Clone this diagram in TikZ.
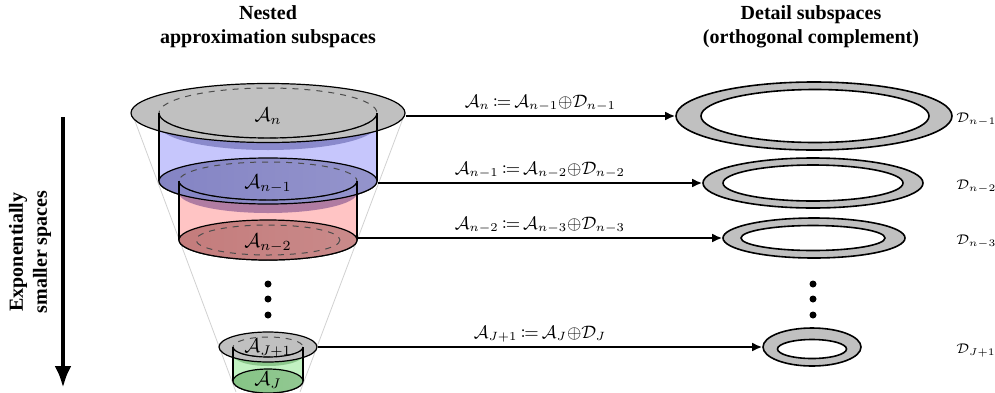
\documentclass[tikz,border=0pt]{standalone}
\usepackage{amsmath}
\usepackage{mathtools}
\usepackage{fontspec}
\setmainfont{Liberation Serif}
\usepackage{tikz}
\usetikzlibrary{arrows.meta}
\usetikzlibrary{shapes.geometric}

\definecolor{diskgray}{HTML}{C0C0C0}
\definecolor{sideblue}{HTML}{C6C6FC}
\definecolor{bandblue}{HTML}{8A8ACC}
\definecolor{sidered}{HTML}{FFC4C4}
\definecolor{bandred}{HTML}{B07CA2}
\definecolor{sidegreen}{HTML}{C2F2C2}
\definecolor{bandgreen}{HTML}{8CC88C}

\begin{document}
\begin{tikzpicture}[x=0.5pt,y=-0.5pt,
  disk/.style={ellipse, draw, line width=0.6pt, inner sep=0pt, fill=diskgray},
  ring/.style={ellipse, draw, line width=0.8pt, inner sep=0pt, fill=diskgray},
  hole/.style={ellipse, draw, line width=0.8pt, inner sep=0pt, fill=white},
  side/.style={draw, line width=0.6pt},
  rim/.style={dashed, line width=0.5pt, black!70},
  funnel/.style={black!18, line width=0.4pt},
  conn/.style={-{Latex[length=5pt,width=4.5pt]}, line width=1pt},
  eqn/.style={above, inner sep=2pt, font=\small},
  dlabel/.style={anchor=west, inner sep=0pt, font=\fontsize{7.5}{9}\selectfont},
  title/.style={align=center, font=\bfseries},
  dot/.style={circle, fill, inner sep=0pt, minimum size=3.5pt}]
\useasboundingbox (0,0) rectangle (995,392);

% titles
\node[title] (tleft) at (268,27) {Nested\\approximation subspaces};
\node[title] (tright) at (811,27) {Detail subspaces\\(orthogonal complement)};

% size arrow
\coordinate (vtop) at (63,117);
\coordinate (vbot) at (63,388);
\draw[-{Latex[length=11pt,width=8.5pt]}, line width=2.2pt] (vtop) -- (vbot);
\node[title, rotate=90] (tsize) at (30,252) {Exponentially\\smaller spaces};

% funnel
\draw[funnel] (132,113) -- (236,392);
\draw[funnel] (405,113) -- (300,392);

% A_n
\filldraw[side, fill=sideblue] (159,113) -- (159,181)
  arc[start angle=180, end angle=0, x radius=109, y radius=23] -- (377,113) -- cycle;
\fill[bandblue] (268,125) ellipse[x radius=109, y radius=25];
\node[disk, minimum width=137pt, minimum height=29.5pt] (An) at (268,113) {};
\draw[rim] (268,113) ellipse[x radius=109, y radius=25];
\draw[side] (159,113) -- (159,181) (377,113) -- (377,181);
\draw[side] (159,113) arc[start angle=180, end angle=0, x radius=109, y radius=25];
\node (lAn) at (268,116) {$\mathcal{A}_n$};

% A_{n-1}
\filldraw[side, fill=sidered] (179,181) -- (179,240)
  arc[start angle=180, end angle=0, x radius=89, y radius=20] -- (357,181) -- cycle;
\fill[bandred] (268,193) ellipse[x radius=89, y radius=20];
\node[disk, minimum width=109pt, minimum height=23pt,
  left color={rgb,255:red,132;green,132;blue,196}, middle color={rgb,255:red,171;green,171;blue,211},
  right color={rgb,255:red,148;green,148;blue,204}] (An1) at (268,181) {};
\draw[rim] (268,181) ellipse[x radius=89, y radius=19];
\draw[side] (179,181) -- (179,240) (357,181) -- (357,240);
\draw[side] (179,181) arc[start angle=180, end angle=0, x radius=89, y radius=19];
\node (lAn1) at (268,184) {$\mathcal{A}_{n-1}$};

% A_{n-2}
\node[disk, minimum width=89pt, minimum height=20pt,
  left color={rgb,255:red,196;green,124;blue,124}, middle color={rgb,255:red,214;green,171;blue,171},
  right color={rgb,255:red,201;green,138;blue,138}] (An2) at (268,240) {};
\draw[rim] (268,240) ellipse[x radius=72, y radius=15];
\node (lAn2) at (268,243) {$\mathcal{A}_{n-2}$};

% dots
\foreach \y in {284,299,315} {
  \node[dot] (ldot\y) at (268,\y) {};
  \node[dot] (rdot\y) at (813,\y) {};
}

% A_{J+1} and A_J
\filldraw[side, fill=sidegreen] (233,347) -- (233,381)
  arc[start angle=180, end angle=0, x radius=35, y radius=12] -- (303,347) -- cycle;
\fill[bandgreen] (268,355) ellipse[x radius=35, y radius=11];
\node[disk, minimum width=49pt, minimum height=15pt] (AJ1) at (268,347) {};
\draw[rim] (268,347) ellipse[x radius=35, y radius=10];
\draw[side] (233,347) -- (233,381) (303,347) -- (303,381);
\draw[side] (233,347) arc[start angle=180, end angle=0, x radius=35, y radius=10];
\node[disk, minimum width=35pt, minimum height=12pt,
  left color={rgb,255:red,134;green,196;blue,134}, middle color={rgb,255:red,171;green,212;blue,171},
  right color={rgb,255:red,146;green,200;blue,146}] (AJ) at (268,381) {};
\node (lAJ1) at (268,348) {$\mathcal{A}_{J+1}$};
\node (lAJ) at (268,380) {$\mathcal{A}_J$};

% detail rings
\node[ring, minimum width=138pt, minimum height=34pt] (Dn1) at (814,116) {};
\node[hole, minimum width=114pt, minimum height=26.5pt] (hn1) at (815,116) {};
\node[ring, minimum width=110pt, minimum height=25pt] (Dn2) at (813,183) {};
\node[hole, minimum width=90pt, minimum height=18pt] (hn2) at (813,183) {};
\node[ring, minimum width=91pt, minimum height=20pt] (Dn3) at (814,238) {};
\node[hole, minimum width=72pt, minimum height=12.5pt] (hn3) at (813,238) {};
\node[ring, minimum width=49pt, minimum height=19pt] (DJ) at (812,347) {};
\node[hole, minimum width=34.5pt, minimum height=9.5pt] (hJ) at (812,349) {};

\node[dlabel] (lDn1) at (956,120) {$\mathcal{D}_{n-1}$};
\node[dlabel] (lDn2) at (956,187) {$\mathcal{D}_{n-2}$};
\node[dlabel] (lDn3) at (956,242) {$\mathcal{D}_{n-3}$};
\node[dlabel] (lDJ) at (956,351) {$\mathcal{D}_{J+1}$};

% splitting arrows
\draw[conn] (An.east |- Dn1.west) -- (Dn1.west)
  node[eqn, midway] (eq1) {$\mathcal{A}_n\,{\coloneqq}\,\mathcal{A}_{n-1}{\oplus}\mathcal{D}_{n-1}$};
\draw[conn] (An1.east |- Dn2.west) -- (Dn2.west)
  node[eqn, midway] (eq2) {$\mathcal{A}_{n-1}\,{\coloneqq}\,\mathcal{A}_{n-2}{\oplus}\mathcal{D}_{n-2}$};
\draw[conn] (An2.east |- Dn3.west) -- (Dn3.west)
  node[eqn, midway] (eq3) {$\mathcal{A}_{n-2}\,{\coloneqq}\,\mathcal{A}_{n-3}{\oplus}\mathcal{D}_{n-3}$};
\draw[conn] (AJ1.east |- DJ.west) -- (DJ.west)
  node[eqn, midway] (eq4) {$\mathcal{A}_{J+1}\,{\coloneqq}\,\mathcal{A}_{J}{\oplus}\mathcal{D}_{J}$};
\end{tikzpicture}
\end{document}
